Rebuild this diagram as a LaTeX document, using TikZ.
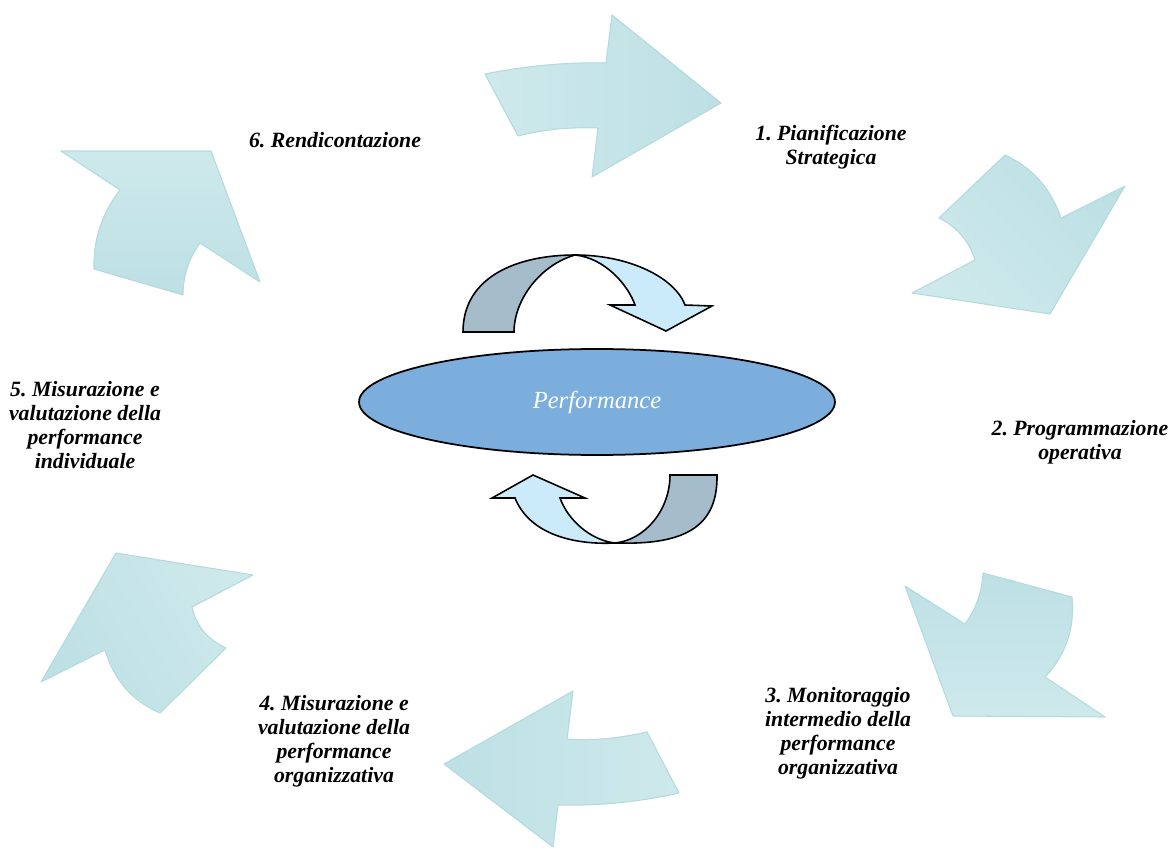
\documentclass[tikz,border=0pt]{standalone}
\usepackage{fontspec}
\setmainfont{Liberation Serif}
\frenchspacing
\usetikzlibrary{shapes.geometric}
\definecolor{arrA}{RGB}{206,233,236}
\definecolor{arrB}{RGB}{189,224,228}
\definecolor{arrEdge}{RGB}{178,218,223}
\definecolor{ellFill}{RGB}{123,174,220}
\definecolor{ribGray}{RGB}{165,188,203}
\definecolor{ribLight}{RGB}{204,235,250}
\tikzset{
  bigarrow/.style={draw=arrEdge, line width=0.6pt, left color=arrA, right color=arrB, line join=round},
  ribbon/.style={draw=black, line width=0.9pt, line join=miter},
  lbl/.style={align=center, font=\fontsize{12.4}{13.6}\selectfont\bfseries\itshape, inner sep=0pt},
}
\begin{document}
\begin{tikzpicture}[x=0.02cm,y=-0.02cm]
\useasboundingbox (0,0) rectangle (1173,848);
% ---- big cycle arrows
% 1 top
\path[bigarrow] (485,74) .. controls (525,66) and (565,62) .. (606,63) -- (612,15) -- (721,103) -- (592,177)
  -- (598,128) .. controls (571,127) and (545,129) .. (518,136) -- cycle;
% 2 upper right
\path[bigarrow, shading angle=135] (939,218) -- (1005,155) .. controls (1033,168) and (1051,189) .. (1061,218) -- (1125,186)
  -- (1050,314) -- (912,293) -- (975,260) .. controls (969,241) and (957,227) .. (939,218) -- cycle;
% 3 lower right
\path[bigarrow, shading angle=180] (983,573) -- (1072,597) .. controls (1075,628) and (1066,655) .. (1045,677) -- (1105,717)
  -- (953,716) -- (905,586) -- (965,624) .. controls (976,609) and (982,592) .. (983,573) -- cycle;
% 4 bottom
\path[bigarrow, shading angle=270] (647,732) -- (679,793) .. controls (639,802) and (599,806) .. (558,805) -- (553,847)
  -- (444,764) -- (573,691) -- (567,739) .. controls (594,741) and (620,738) .. (647,732) -- cycle;
% 5 lower left
\path[bigarrow, shading angle=300] (160,713) .. controls (132,701) and (114,680) .. (105,650) -- (41,682) -- (116,553)
  -- (253,575) -- (192,607) .. controls (196,626) and (208,640) .. (226,648) -- cycle;
% 6 upper left
\path[bigarrow, shading angle=0] (94,269) .. controls (93,240) and (102,213) .. (120,190) -- (61,151) -- (211,151)
  -- (260,282) -- (200,243) .. controls (189,258) and (183,276) .. (183,295) -- cycle;
% ---- central ribbons
\path[ribbon, fill=ribGray] (463,332) .. controls (463,275) and (520,255) .. (575,255)
  .. controls (540,265) and (514,300) .. (514,332) -- cycle;
\path[ribbon, fill=ribLight] (575,255) .. controls (630,255) and (675,278) .. (685,305)
  -- (712,306) -- (666,331) -- (610,305) -- (635,305)
  .. controls (628,285) and (605,258) .. (575,255) -- cycle;
\path[ribbon, fill=ribGray] (717,475) .. controls (718,530) and (680,545) .. (615,543)
  .. controls (645,540) and (670,510) .. (670,475) -- cycle;
\path[ribbon, fill=ribLight] (615,543) .. controls (575,545) and (530,535) .. (515,498)
  -- (492,498) -- (533,475) -- (585,498) -- (560,498)
  .. controls (568,520) and (590,540) .. (615,543) -- cycle;
% ---- ellipse
\node[draw=black, line width=1pt, fill=ellFill, ellipse, minimum width=9.52cm, minimum height=2.12cm, inner sep=0pt,
  text=white, font=\fontsize{14}{16}\selectfont\itshape] (perf) at (597,402) {Performance};
% ---- labels
\node[lbl] (l1) at (831,147) {1. Pianificazione\\Strategica};
\node[lbl] (l2) at (1080,442) {2. Programmazione\\operativa};
\node[lbl] (l3) at (838,733) {3. Monitoraggio\\intermedio della\\performance\\organizzativa};
\node[lbl] (l4) at (334,741) {4. Misurazione e\\valutazione della\\performance\\organizzativa};
\node[lbl] (l5) at (85,425) {5. Misurazione e\\valutazione della\\performance\\individuale};
\node[lbl] (l6) at (335,140) {6. Rendicontazione};
\end{tikzpicture}
\end{document}
